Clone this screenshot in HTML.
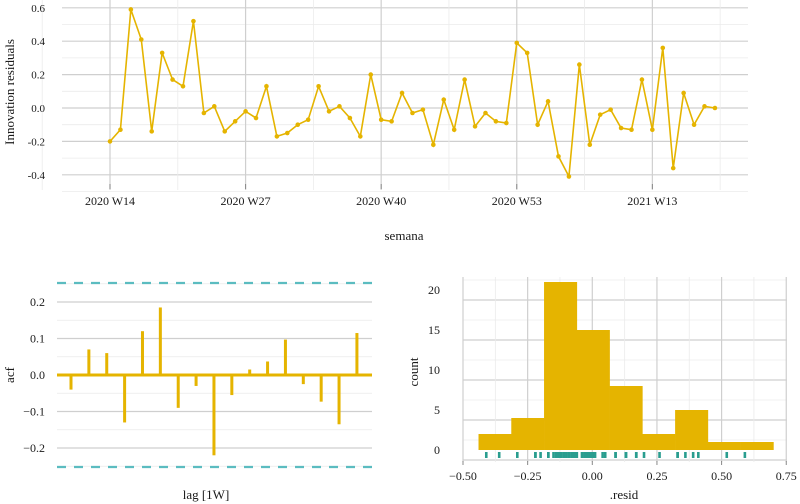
<!DOCTYPE html>
<html><head><meta charset="utf-8">
<style>
html,body{margin:0;padding:0;background:#fff;}
svg{display:block;font-family:"Liberation Serif",serif;}
</style></head>
<body>
<svg id="chart" width="800" height="504" viewBox="0 0 800 504" xmlns="http://www.w3.org/2000/svg">
<g id="topPanel"></g>
<g id="acfPanel"></g>
<g id="histPanel"></g>
</svg>
<script>
const resid = [-0.20,-0.13,0.59,0.41,-0.14,0.33,0.17,0.13,0.52,-0.03,0.01,-0.14,-0.08,-0.02,-0.06,0.13,-0.17,-0.15,-0.10,-0.07,0.13,-0.02,0.01,-0.06,-0.17,0.20,-0.07,-0.08,0.09,-0.03,-0.01,-0.22,0.05,-0.13,0.17,-0.11,-0.03,-0.08,-0.09,0.39,0.33,-0.10,0.04,-0.29,-0.41,0.26,-0.22,-0.04,-0.01,-0.12,-0.13,0.17,-0.13,0.36,-0.36,0.09,-0.10,0.01,0.00];
const weekTickLabels = ["2020 W14","2020 W27","2020 W40","2020 W53","2021 W13"];
const weekTickIdx = [0,13,26,39,52];
const topYTicks = [-0.4,-0.2,0.0,0.2,0.4,0.6];
const acfVals = [-0.04,0.07,0.06,-0.13,0.12,0.185,-0.09,-0.03,-0.22,-0.055,0.015,0.037,0.097,-0.025,-0.073,-0.135,0.115];
const acfBound = 0.252;
const acfYTicks = [-0.2,-0.1,0.0,0.1,0.2];
const histEdgesStart = -0.44;
const histBinWidth = 0.1267;
const histCounts = [2,4,21,15,8,2,5,1,1];
const histXTicks = [-0.50,-0.25,0.00,0.25,0.50,0.75];
const histYTicks = [0,5,10,15,20];

const NS="http://www.w3.org/2000/svg";
const GOLD="#E5B400", TEAL="#2A9D8F", GRID="#cfcfcf", MINOR="#ebebeb", TXT="#1a1a1a";
function mk(parent,tag,attrs,text){const e=document.createElementNS(NS,tag);for(const k in attrs)e.setAttribute(k,attrs[k]);if(text!==undefined)e.textContent=text;parent.appendChild(e);return e;}

// ---- Top panel
const gTop=document.getElementById('topPanel');
const tx=i=>110+i*10.43, ty=v=>108-v*167;
for(let v=-0.5;v<=0.61;v+=0.1){const y=ty(v);const major=Math.abs(Math.round(v*10)%2)===0;const l=mk(gTop,'line',{x1:62,x2:748,y1:y,y2:y,stroke:major?GRID:MINOR,'stroke-width':major?1.2:0.8});}
for(let k=-1;k<weekTickIdx.length;k++){const i=k<0?-6.5:weekTickIdx[k]+6.5;const l=mk(gTop,'line',{x1:tx(i),x2:tx(i),y1:0,y2:190,stroke:MINOR,'stroke-width':0.8});}
weekTickIdx.forEach((i,k)=>{const x=tx(i);mk(gTop,'line',{x1:x,x2:x,y1:0,y2:190,stroke:GRID,'stroke-width':1.2});mk(gTop,'line',{x1:x,x2:x,y1:184,y2:189,stroke:'#888'});const t=mk(gTop,'text',{x:x,y:205,'text-anchor':'middle','font-size':12,fill:TXT},weekTickLabels[k]);});
topYTicks.forEach(v=>{const t=mk(gTop,'text',{x:45,y:ty(v)+4,'text-anchor':'end','font-size':11,fill:TXT},v.toFixed(1));});
const pl=mk(gTop,'polyline',{points:resid.map((v,i)=>tx(i)+','+ty(v)).join(' '),fill:'none',stroke:GOLD,'stroke-width':1.6});


resid.forEach((v,i)=>{const c=mk(gTop,'circle',{cx:tx(i),cy:ty(v),r:2.3,fill:GOLD});});
let t1=mk(gTop,'text',{x:404,y:240,'text-anchor':'middle','font-size':13,fill:TXT},'semana');


t1=mk(gTop,'text',{x:0,y:0,transform:'translate(14,92) rotate(-90)','text-anchor':'middle','font-size':13,fill:TXT},'Innovation residuals');



// ---- ACF panel
const gAcf=document.getElementById('acfPanel');
const ax=l=>71+(l-1)*17.87, ay=v=>375-v*365;
for(let v=-0.25;v<=0.251;v+=0.05){const y=ay(v);const major=Math.abs(Math.round(v*20))%2===0;const l=mk(gAcf,'line',{x1:57,x2:372,y1:y,y2:y,stroke:major?GRID:MINOR,'stroke-width':major?1.2:0.8});}
acfYTicks.forEach(v=>{const t=mk(gAcf,'text',{x:45,y:ay(v)+4,'text-anchor':'end','font-size':12,fill:TXT},(v<0?'\u2212':'')+Math.abs(v).toFixed(1));});
[acfBound,-acfBound].forEach(b=>{const l=mk(gAcf,'line',{x1:57,x2:372,y1:ay(b),y2:ay(b),stroke:'#5BBCC0','stroke-width':2.2,'stroke-dasharray':'9 8'});});
const zl=mk(gAcf,'line',{x1:57,x2:372,y1:ay(0),y2:ay(0),stroke:GOLD,'stroke-width':3});


acfVals.forEach((v,i)=>{const x=ax(i+1);const r=mk(gAcf,'rect',{x:x-1.5,y:Math.min(ay(v),ay(0)),width:3,height:Math.abs(ay(v)-ay(0)),fill:GOLD});});
t1=mk(gAcf,'text',{x:206,y:499,'text-anchor':'middle','font-size':13,fill:TXT},'lag [1W]');


t1=mk(gAcf,'text',{x:0,y:0,transform:'translate(14,375) rotate(-90)','text-anchor':'middle','font-size':13,fill:TXT},'acf');



// ---- Histogram panel
const gHist=document.getElementById('histPanel');
const hx=v=>463+(v+0.5)*258.6, hy=c=>450-c*8;
for(let c=-1.25;c<=21.3;c+=2.5){const y=hy(c);const major=Math.abs(Math.round(c/2.5))%2===0;if(y<275)continue;const l=mk(gHist,'line',{x1:463,x2:787,y1:y,y2:y,stroke:major?GRID:MINOR,'stroke-width':major?1.2:0.8});}
for(let v=-0.5;v<=0.76;v+=0.125){const major=Math.abs(Math.round(v*8))%2===0;const l=mk(gHist,'line',{x1:hx(v),x2:hx(v),y1:277,y2:462,stroke:major?GRID:MINOR,'stroke-width':major?1.2:0.8});}
histCounts.forEach((c,i)=>{const x0=hx(histEdgesStart+i*histBinWidth),x1=hx(histEdgesStart+(i+1)*histBinWidth);const r=mk(gHist,'rect',{x:x0,y:hy(c),width:x1-x0+0.3,height:hy(0)-hy(c),fill:GOLD});});
resid.forEach(v=>{const r=mk(gHist,'rect',{x:hx(v)-1.3,y:452,width:2.6,height:6,fill:TEAL});});
histXTicks.forEach(v=>{mk(gHist,'line',{x1:hx(v),x2:hx(v),y1:461,y2:465,stroke:'#888'});const t=mk(gHist,'text',{x:hx(v),y:480,'text-anchor':'middle','font-size':12,fill:TXT},(v<0?'\u2212':'')+Math.abs(v).toFixed(2));});
histYTicks.forEach(c=>{const t=mk(gHist,'text',{x:440,y:hy(c)+4,'text-anchor':'end','font-size':12,fill:TXT},String(c));});
t1=mk(gHist,'text',{x:624,y:499,'text-anchor':'middle','font-size':13,fill:TXT},'.resid');


t1=mk(gHist,'text',{x:0,y:0,transform:'translate(418,372) rotate(-90)','text-anchor':'middle','font-size':13,fill:TXT},'count');


</script>
</body></html>
